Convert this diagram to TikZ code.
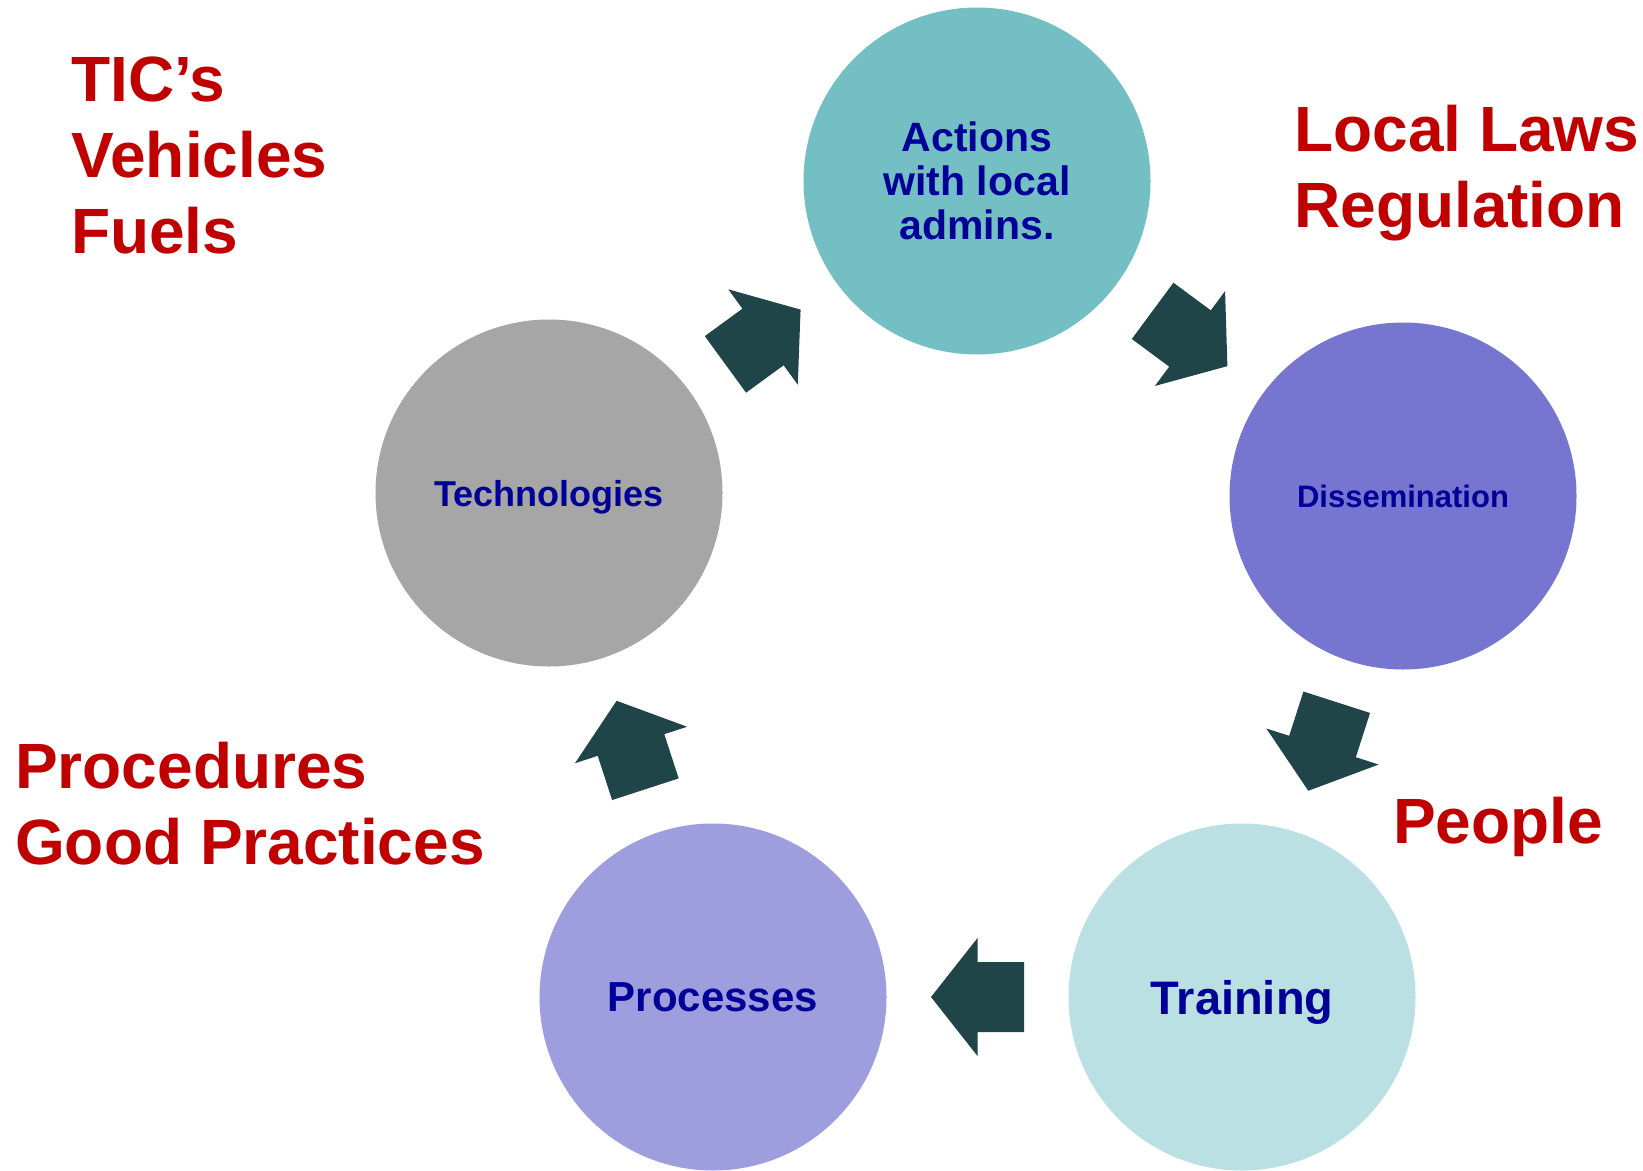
\documentclass[tikz,border=0pt]{standalone}
\usepackage{fontspec}
\setmainfont{Liberation Sans}
\usetikzlibrary{calc}

\definecolor{actfill}{RGB}{116,191,196}
\definecolor{dissfill}{RGB}{118,118,209}
\definecolor{trainfill}{RGB}{186,224,227}
\definecolor{procfill}{RGB}{158,158,222}
\definecolor{techfill}{RGB}{166,166,166}
\definecolor{stagetext}{RGB}{0,0,153}
\definecolor{notered}{RGB}{192,0,0}
\definecolor{arrowfill}{RGB}{31,69,73}

\tikzset{
  stage/.style={circle,inner sep=0pt,minimum size=347pt,align=center,text=stagetext},
  note/.style={inner sep=0pt,anchor=base west,align=left,text=notered,
    font=\bfseries\fontsize{64}{76}\selectfont},
  blockarrow/.pic={
    \fill [arrowfill] (-46.5,-35) -- (0,-35) -- (0,-59) -- (46.5,0)
      -- (0,59) -- (0,35) -- (-46.5,35) -- cycle;
  }
}

\begin{document}
\begin{tikzpicture}[x=1pt,y=-1pt]

\useasboundingbox [fill=white] (0,0) rectangle (1643,1170);

% the five stages
\node [stage,fill=actfill,font=\bfseries\fontsize{41}{44}\selectfont] at (977,181) (act) {Actions\\with local\\admins.};
\node [stage,fill=dissfill,font=\bfseries\fontsize{31}{36}\selectfont] at (1403,496) (diss) {Dissemination};
\node [stage,fill=trainfill,text depth=0pt,font=\bfseries\fontsize{47}{52}\selectfont] at (1242,997) (train) {Training};
\node [stage,fill=procfill,font=\bfseries\fontsize{42}{48}\selectfont] at (713,997) (proc) {Processes};
\node [stage,fill=techfill,text depth=0pt,font=\bfseries\fontsize{36}{42}\selectfont] at (549,493) (tech) {Technologies};

% block arrows half way between the stages
\path let \p1=($(act)-(tech)$), \n1={atan2(\y1,\x1)} in ($(tech)!.5!(act)$) pic [rotate=\n1] {blockarrow};
\path let \p1=($(diss)-(act)$), \n1={atan2(\y1,\x1)} in ($(act)!.5!(diss)$) pic [rotate=\n1] {blockarrow};
\path let \p1=($(train)-(diss)$), \n1={atan2(\y1,\x1)} in ($(diss)!.5!(train)$) pic [rotate=\n1] {blockarrow};
\path let \p1=($(proc)-(train)$), \n1={atan2(\y1,\x1)} in ($(train)!.5!(proc)$) pic [rotate=\n1] {blockarrow};
\path let \p1=($(tech)-(proc)$), \n1={atan2(\y1,\x1)} in ($(proc)!.5!(tech)$) pic [rotate=\n1] {blockarrow};

% notes (anchored on the baseline of their last line)
\node [note] at (71,253) (tics) {TIC’s\\Vehicles\\Fuels};
\node [note] at (1294,227) (laws) {Local Laws\\Regulation};
\node [note] at (15,864) (proced) {Procedures\\Good Practices};
\node [note] at (1393,843) (people) {People};

\end{tikzpicture}
\end{document}
